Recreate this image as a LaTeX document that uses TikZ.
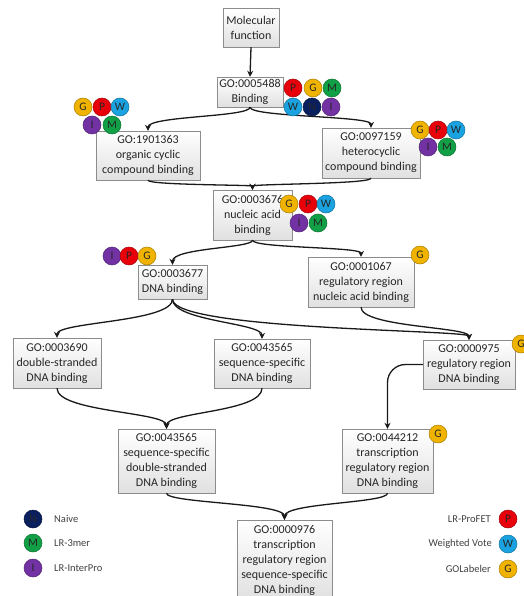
\documentclass[tikz,border=0pt]{standalone}
\usepackage{fontspec}
\setmainfont{Carlito}
\usetikzlibrary{arrows.meta}
\definecolor{cP}{HTML}{E8000B}
\definecolor{cG}{HTML}{F0B400}
\definecolor{cM}{HTML}{11A046}
\definecolor{cW}{HTML}{1AA3E0}
\definecolor{cN}{HTML}{0A1F5E}
\definecolor{cI}{HTML}{7332A4}
\begin{document}
\begin{tikzpicture}[x=1pt,y=-1pt,
  gobox/.style={draw=black!45, top color=white, bottom color=black!12, align=center,
    inner sep=2pt, font=\fontsize{12}{15}\selectfont, text=black!85},
  conn/.style={draw=black!90, line width=1.3pt, -{Stealth[length=6pt,width=6pt]}},
  badge/.style={circle, minimum size=18pt, inner sep=0pt, fill=#1, draw=#1!70!black,
    line width=0.5pt, font=\fontsize{11.5}{12}\selectfont, text=black!85},
  bP/.style={badge=cP}, bG/.style={badge=cG}, bM/.style={badge=cM},
  bW/.style={badge=cW}, bN/.style={badge=cN}, bI/.style={badge=cI},
  legtext/.style={font=\fontsize{10.5}{12}\selectfont, text=black!75, inner sep=0pt}
]
\useasboundingbox (0,0) rectangle (523,596);

% boxes
\node[gobox, minimum width=56pt, minimum height=39pt] (mf) at (251,27.5) {Molecular\\function};
\node[gobox, minimum width=66pt, minimum height=30pt] (bind) at (250,92) {GO:0005488\\Binding};
\node[gobox, minimum width=104pt, minimum height=49pt] (o1901) at (148,155.5) {GO:1901363\\organic cyclic\\compound binding};
\node[gobox, minimum width=98pt, minimum height=50pt] (o0971) at (371,153) {GO:0097159\\heterocyclic\\compound binding};
\node[gobox, minimum width=79pt, minimum height=50pt] (o3676) at (252.5,215) {GO:0003676\\nucleic acid\\binding};
\node[gobox, minimum width=69pt, minimum height=34pt] (o3677) at (172.5,282) {GO:0003677\\DNA binding};
\node[gobox, minimum width=106pt, minimum height=50pt] (o1067) at (361,282) {GO:0001067\\regulatory region\\nucleic acid binding};
\node[gobox, minimum width=88pt, minimum height=50pt] (o3690) at (57,363) {GO:0003690\\double-stranded\\DNA binding};
\node[gobox, minimum width=96pt, minimum height=49pt] (o4356a) at (262,363.5) {GO:0043565\\sequence-specific\\DNA binding};
\node[gobox, minimum width=92pt, minimum height=49pt] (o0975) at (469,364.5) {GO:0000975\\regulatory region\\DNA binding};
\node[gobox, minimum width=97pt, minimum height=64pt] (ossds) at (166.5,461) {GO:0043565\\sequence-specific\\double-stranded\\DNA binding};
\node[gobox, minimum width=91pt, minimum height=64pt] (o4212) at (387.5,461) {GO:0044212\\transcription\\regulatory region\\DNA binding};
\node[gobox, minimum width=95pt, minimum height=80pt] (o976) at (284.5,560) {GO:0000976\\transcription\\regulatory region\\sequence-specific\\DNA binding};

% connectors
\draw[conn] (mf.south) -- (bind.north);
\draw[conn] (bind.south) .. controls +(0,10) and +(0,-15) .. (o1901.north);
\draw[conn] (bind.south) .. controls +(0,10) and +(0,-12) .. (o0971.north);
\draw[conn] (o1901.south) .. controls +(0,5) and +(0,-5) .. (o3676.north);
\draw[conn] (o0971.south) .. controls +(0,6) and +(0,-6) .. (o3676.north);
\draw[conn] (o3676.south) .. controls +(0,8) and +(0,-17) .. (o3677.north);
\draw[conn] (o3676.south) .. controls +(0,8) and +(0,-10) .. (o1067.north);
\draw[conn] (o3677.south) .. controls +(0,23) and +(0,-16) .. (o3690.north);
\draw[conn] (o3677.south) .. controls +(0,22) and +(0,-16) .. (o4356a.north);
\draw[conn] (o3677.south) .. controls +(0,31) and +(0,-10) .. (o0975.north);
\draw[conn] (o1067.south) .. controls +(0,20) and +(0,-13) .. (o0975.north);
\draw[conn] (o3690.south) .. controls +(0,24) and +(0,-17) .. (ossds.north);
\draw[conn] (o4356a.south) .. controls +(0,24) and +(0,-17) .. (ossds.north);
\draw[conn, rounded corners=18pt] (o0975.west) -| (o4212.north);
\draw[conn] (ossds.south) .. controls +(0,10) and +(0,-17) .. (o976.north);
\draw[conn] (o4212.south) .. controls +(0,10) and +(0,-17) .. (o976.north);

% badges
\node[bP] (b1p) at (293,88) {P};
\node[bG] (b1g) at (313,88) {G};
\node[bM] (b1m) at (332,88) {M};
\node[bW] (b1w) at (293,107) {W};
\node[bN] (b1n) at (312,107) {N};
\node[bI] (b1i) at (331,107) {I};

\node[bG] (b2g) at (83,107) {G};
\node[bP] (b2p) at (102,107) {P};
\node[bW] (b2w) at (120,107) {W};
\node[bI] (b2i) at (92,125) {I};
\node[bM] (b2m) at (112,125) {M};

\node[bG] (b3g) at (420,130) {G};
\node[bP] (b3p) at (438,130) {P};
\node[bW] (b3w) at (456,130) {W};
\node[bI] (b3i) at (428,147) {I};
\node[bM] (b3m) at (447,147) {M};

\node[bG] (b4g) at (289,204) {G};
\node[bP] (b4p) at (308,204) {P};
\node[bW] (b4w) at (326,204) {W};
\node[bI] (b4i) at (299,223) {I};
\node[bM] (b4m) at (318,223) {M};

\node[bI] (b5i) at (112,256) {I};
\node[bP] (b5p) at (129,256) {P};
\node[bG] (b5g) at (147,256) {G};

\node[bG] (b6g) at (420,255) {G};
\node[bG] (b7g) at (521,344) {G};
\node[bG] (b8g) at (438,434) {G};

% legend
\node[bN] (lgn) at (33,519) {N};
\node[legtext, anchor=west] (lgnt) at (54,519) {Naive};
\node[bM] (lgm) at (33,543) {M};
\node[legtext, anchor=west] (lgmt) at (54,543) {LR-3mer};
\node[bI] (lgi) at (33,568) {I};
\node[legtext, anchor=west] (lgit) at (54,568) {LR-InterPro};
\node[bP] (lgp) at (508,519) {P};
\node[legtext, anchor=east] (lgpt) at (491,519) {LR-ProFET};
\node[bW] (lgw) at (508,544) {W};
\node[legtext, anchor=east] (lgwt) at (492,544) {Weighted Vote};
\node[bG] (lgg) at (508,569) {G};
\node[legtext, anchor=east] (lggt) at (491,569) {GOLabeler};
\end{tikzpicture}
\end{document}
